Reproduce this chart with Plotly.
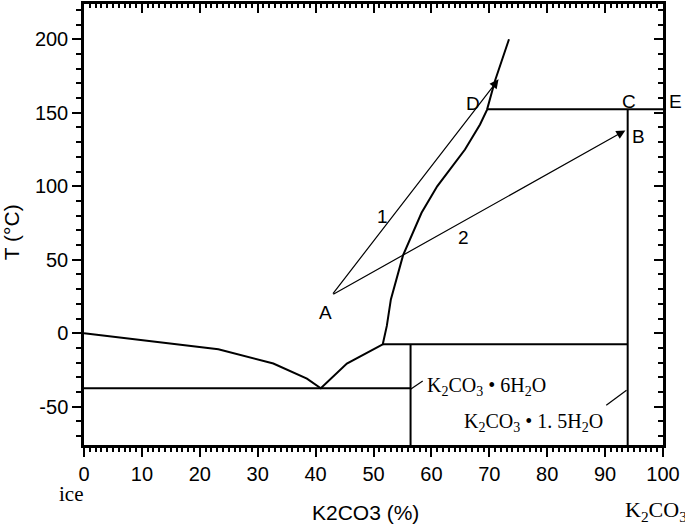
import plotly.graph_objects as go

# Phase diagram data (K2CO3 - H2O)
liquidus_x = [0, 23.2, 32.7, 38.5, 40.9, 45.4, 51.6, 52.3, 53, 54, 55.1, 58.3, 61, 65.8, 68.4, 69.6, 71, 73.4]
liquidus_y = [0, -10.9, -20.6, -30.8, -37.4, -20.6, -7.5, 5, 23, 37, 53, 82, 100, 125, 142, 152, 172, 200]

eutectic_x = [0, 56.4]
eutectic_y = [-37.4, -37.4]
hexa_x = [56.4, 56.4]
hexa_y = [-76, -7.5]
peritectic_x = [51.6, 93.9]
peritectic_y = [-7.5, -7.5]
sesqui_x = [93.9, 93.9]
sesqui_y = [-76, 152.4]
anhydrous_x = [69.6, 100]
anhydrous_y = [152.4, 152.4]

leader1_x = [56.4, 58.5]
leader1_y = [-38, -32.5]
leader2_x = [90.2, 93.7]
leader2_y = [-49, -38.8]

point_A = (42.8, 26)
arrow_tips = [(71.6, 172.8), (93.5, 138)]

letters = ["A", "1", "2", "D", "C", "B"]
letter_x = [41.7, 51.5, 65.5, 67.2, 94.1, 95.8]
letter_y = [14.3, 79.6, 65.3, 156.3, 158, 134]

ytick_vals = [-50, 0, 50, 100, 150, 200]
ytick_text = ["-50", "0", "50", "100", "150", "200"]

SANS = "Liberation Sans, Arial, sans-serif"
SERIF = "Liberation Serif, Times New Roman, serif"

fig = go.Figure()

line = dict(color="black", width=2)
for xs, ys in [(liquidus_x, liquidus_y), (eutectic_x, eutectic_y), (hexa_x, hexa_y),
               (peritectic_x, peritectic_y), (sesqui_x, sesqui_y), (anhydrous_x, anhydrous_y)]:
    fig.add_trace(go.Scatter(x=xs, y=ys, mode="lines", line=line, hoverinfo="skip"))
for xs, ys in [(leader1_x, leader1_y), (leader2_x, leader2_y)]:
    fig.add_trace(go.Scatter(x=xs, y=ys, mode="lines", line=dict(color="black", width=1.2),
                             hoverinfo="skip"))

# dummy trace for the mirror axes
fig.add_trace(go.Scatter(x=[None], y=[None], xaxis="x2", yaxis="y2", showlegend=False))

# arrows from A
for tx, ty in arrow_tips:
    fig.add_annotation(x=tx, y=ty, ax=point_A[0], ay=point_A[1], xref="x", yref="y",
                       axref="x", ayref="y", text="", showarrow=True, arrowhead=2,
                       arrowsize=1.5, arrowwidth=1.2, arrowcolor="black")

for t, x, y in zip(letters, letter_x, letter_y):
    fig.add_annotation(x=x, y=y, text=t, showarrow=False, xref="x", yref="y",
                       font=dict(family=SANS, size=19, color="black"))
# E sits outside the plot area
fig.add_annotation(x=1.022, y=158, xref="paper", yref="y", xanchor="center", text="E",
                   showarrow=False, font=dict(family=SANS, size=19, color="black"))

fig.add_annotation(x=58.9, y=-36, xref="x", yref="y", xanchor="left", yanchor="middle",
                   text="K<sub>2</sub>CO<sub>3</sub> • 6H<sub>2</sub>O", showarrow=False,
                   font=dict(family=SERIF, size=20, color="black"))
fig.add_annotation(x=65.2, y=-60.5, xref="x", yref="y", xanchor="left", yanchor="middle",
                   text="K<sub>2</sub>CO<sub>3</sub> • 1. 5H<sub>2</sub>O", showarrow=False,
                   font=dict(family=SERIF, size=20, color="black"))

fig.add_annotation(x=-0.022, y=-0.111, xref="paper", yref="paper", xanchor="center",
                   yanchor="middle", text="ice", showarrow=False,
                   font=dict(family=SERIF, size=21, color="black"))
fig.add_annotation(x=0.988, y=-0.149, xref="paper", yref="paper", xanchor="center",
                   yanchor="middle", text="K<sub>2</sub>CO<sub>3</sub>", showarrow=False,
                   font=dict(family=SERIF, size=22, color="black"))
fig.add_annotation(x=0.487, y=-0.152, xref="paper", yref="paper", xanchor="center",
                   yanchor="middle", text="K2CO3 (%)", showarrow=False,
                   font=dict(family=SANS, size=21, color="black"))
fig.add_annotation(x=-0.124, y=0.483, xref="paper", yref="paper", xanchor="center",
                   yanchor="middle", text="T (°C)", textangle=-90, showarrow=False,
                   font=dict(family=SANS, size=21, color="black"))

axis_common = dict(showline=True, linecolor="black", linewidth=2.5, showgrid=False,
                   zeroline=False, tickcolor="black", tickwidth=2,
                   tickfont=dict(family=SANS, size=20, color="black"))

fig.update_layout(
    width=685, height=526,
    margin=dict(l=84, r=22, t=4, b=81),
    plot_bgcolor="white", paper_bgcolor="white",
    showlegend=False,
    xaxis=dict(range=[0, 100], tickmode="linear", tick0=0, dtick=10, ticks="outside",
               ticklen=9, minor=dict(dtick=1, tick0=0, ticks="outside", ticklen=4,
                                     tickwidth=1.5, tickcolor="black"),
               **axis_common),
    yaxis=dict(range=[-76, 224], tickmode="array", tickvals=ytick_vals, ticktext=ytick_text,
               ticks="outside", ticklen=9,
               minor=dict(tickmode="linear", dtick=10, tick0=0, ticks="outside", ticklen=5,
                          tickwidth=2, tickcolor="black"),
               **axis_common),
    xaxis2=dict(overlaying="x", side="top", matches="x", range=[0, 100], tickmode="linear",
                tick0=0, dtick=10, ticks="inside", ticklen=9, showticklabels=False,
                minor=dict(dtick=1, tick0=0, ticks="inside", ticklen=4, tickwidth=1.5,
                           tickcolor="black"),
                **axis_common),
    yaxis2=dict(overlaying="y", side="right", matches="y", range=[-76, 224],
                tickmode="linear", tick0=0, dtick=50, ticks="inside", ticklen=9,
                showticklabels=False,
                minor=dict(dtick=10, tick0=0, ticks="inside", ticklen=5, tickwidth=2,
                           tickcolor="black"),
                **axis_common),
)

fig.write_html("out.html", config={"displayModeBar": False},
               post_script="document.body.style.margin='0';")
